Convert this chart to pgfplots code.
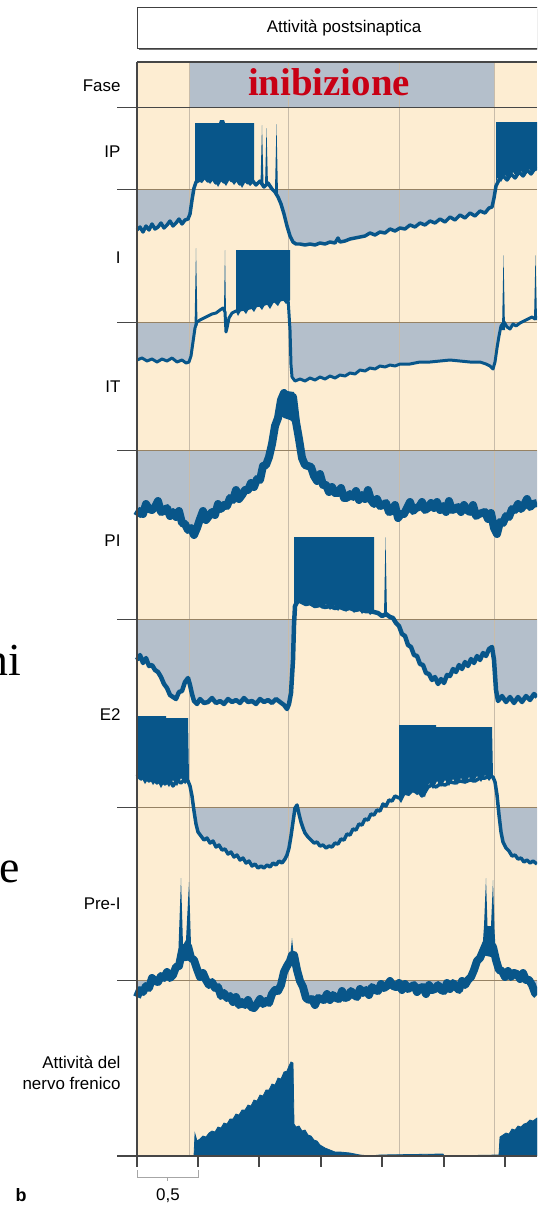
\documentclass[border=0pt]{standalone}
\usepackage{pgfplots}
\pgfplotsset{compat=1.18}
\usepackage{pgfplotstable}
\usepackage{fontspec}
\setmainfont{Liberation Sans}
\newfontfamily\serifx{Liberation Serif}
\definecolor{beige}{RGB}{253,237,210}
\definecolor{gblue}{RGB}{180,191,203}
\definecolor{dblue}{RGB}{8,86,138}
\definecolor{gridc}{RGB}{200,188,170}
\definecolor{basec}{RGB}{150,130,100}
\definecolor{axc}{RGB}{70,70,70}
\definecolor{redt}{RGB}{200,0,20}

\pgfplotstableread[row sep=\\]{x y\\
137 230\\140 227\\143 232\\146 226\\149 230\\152 224\\155 229\\158 227\\161 223\\164 228\\167 225\\170 221\\173 226\\176 223\\179 219\\182 224\\185 220\\188 219\\190 214\\192 200\\194 188\\196 182\\
200 180\\204 176\\208 181\\212 177\\216 183\\220 178\\224 182\\228 176\\232 181\\236 178\\240 184\\244 179\\248 183\\252 180\\256 185\\260 181\\264 187\\268 183\\272 189\\275 192\\278 197\\281 204\\284 214\\287 226\\290 236\\293 242\\296 244\\
300 244\\305 245\\310 244\\315 245\\320 243\\325 244\\330 242\\335 243\\338 238\\340 242\\345 241\\350 239\\355 238\\360 237\\365 236\\370 233\\375 235\\380 232\\385 233\\390 229\\395 231\\400 228\\405 229\\410 225\\415 227\\420 223\\425 225\\430 221\\435 223\\440 219\\445 222\\450 217\\455 220\\460 215\\465 218\\470 213\\475 216\\480 211\\485 213\\489 208\\492 207\\494 198\\496 186\\499 180\\503 176\\507 180\\511 174\\515 178\\519 172\\523 176\\527 170\\531 174\\535 168\\537 170\\
}\ipdata

\pgfplotstableread[row sep=\\]{x y\\
137 360\\142 358\\147 361\\152 359\\157 362\\162 359\\167 361\\172 358\\177 362\\182 360\\186 363\\189 362\\191 356\\193 342\\195 328\\197 322\\200 320\\204 318\\208 316\\212 314\\216 313\\220 310\\223 308\\225 312\\226 332\\227 328\\229 318\\232 313\\236 311\\
240 310\\245 309\\250 308\\255 306\\260 305\\265 304\\270 302\\275 301\\280 300\\285 299\\288 298\\290 330\\291 365\\292 377\\295 381\\300 379\\305 381\\310 378\\315 380\\320 377\\325 379\\330 376\\335 378\\340 375\\345 376\\350 373\\355 374\\360 370\\365 371\\370 368\\375 369\\380 366\\385 367\\390 365\\395 366\\400 364\\410 364\\420 362\\430 362\\440 361\\450 360\\460 361\\470 362\\480 362\\486 364\\490 366\\493 369\\495 362\\497 348\\499 336\\501 326\\504 322\\507 327\\510 329\\513 324\\516 326\\520 323\\524 321\\528 319\\532 317\\535 319\\537 316\\
}\idata

\pgfplotstableread[row sep=\\]{x y\\
137 516\\140 511\\143 514\\146 504\\149 509\\152 510\\155 507\\158 501\\161 512\\164 511\\167 508\\170 516\\173 512\\176 517\\179 511\\182 523\\185 524\\188 530\\191 528\\194 535\\197 528\\200 519\\203 511\\206 520\\209 516\\212 512\\215 515\\218 504\\221 509\\224 505\\227 506\\230 498\\233 500\\236 490\\239 499\\242 495\\245 490\\248 490\\251 483\\254 487\\257 479\\260 480\\263 466\\266 465\\269 457\\272 444\\275 426\\278 418\\281 400\\284 393\\287 397\\290 396\\293 397\\296 422\\299 439\\
302 458\\305 465\\308 466\\311 467\\314 476\\317 481\\320 474\\323 485\\326 485\\329 492\\332 487\\335 493\\338 493\\341 488\\344 498\\347 498\\350 494\\353 497\\356 491\\359 500\\362 495\\365 499\\368 490\\371 500\\374 504\\377 499\\380 506\\383 505\\386 503\\389 512\\392 511\\395 505\\398 518\\401 514\\404 514\\407 508\\410 502\\413 511\\416 508\\419 507\\422 502\\425 510\\428 508\\431 503\\434 508\\437 502\\440 510\\443 506\\446 512\\449 501\\452 510\\455 509\\458 507\\461 512\\464 505\\467 510\\470 512\\473 505\\476 516\\479 514\\482 513\\485 512\\488 519\\491 513\\494 528\\497 534\\500 522\\503 523\\506 516\\509 517\\512 509\\515 510\\518 504\\521 509\\524 505\\527 499\\530 507\\533 504\\537 503\\
}\itdata

\pgfplotstableread[row sep=\\]{x y\\
137 660\\140 655\\143 663\\146 658\\149 666\\152 665\\155 670\\158 672\\161 677\\164 684\\167 688\\170 695\\173 697\\176 699\\179 692\\182 691\\185 682\\188 678\\190 685\\192 694\\194 701\\197 704\\200 699\\204 703\\208 702\\212 698\\216 703\\220 701\\224 704\\228 699\\232 702\\236 700\\240 703\\244 698\\248 702\\252 701\\256 704\\260 699\\264 702\\268 700\\272 703\\276 699\\280 702\\284 705\\287 709\\289 704\\291 693\\293 660\\294 625\\295 606\\298 600\\
302 602\\306 604\\310 603\\315 606\\320 605\\325 607\\330 606\\335 608\\340 607\\345 609\\350 608\\355 610\\360 609\\365 611\\370 611\\374 612\\378 613\\382 616\\386 614\\390 617\\393 618\\396 623\\399 626\\402 634\\405 636\\408 645\\411 647\\414 655\\417 656\\420 664\\423 665\\426 673\\429 674\\432 680\\435 677\\438 684\\441 679\\444 683\\447 675\\450 676\\453 669\\456 672\\459 665\\462 669\\465 662\\468 666\\471 659\\474 663\\477 656\\480 660\\483 653\\486 656\\489 649\\492 647\\494 660\\496 690\\498 701\\502 696\\506 702\\510 697\\514 703\\518 697\\522 702\\526 696\\530 700\\534 694\\537 697\\
}\pidata

\pgfplotstableread[row sep=\\]{x y\\
137 774\\141 779\\145 773\\149 781\\153 776\\157 783\\161 777\\165 784\\169 779\\173 786\\177 780\\181 783\\185 779\\188 781\\190 786\\192 796\\194 811\\196 824\\198 832\\201 836\\204 840\\207 838\\210 843\\213 841\\216 847\\219 845\\222 850\\225 849\\228 854\\231 852\\234 857\\237 855\\240 860\\243 858\\246 863\\249 861\\252 866\\255 864\\258 868\\261 866\\264 868\\267 865\\270 867\\273 863\\276 865\\279 861\\282 863\\285 859\\287 855\\289 848\\291 836\\293 822\\295 808\\297 805\\299 814\\
301 822\\303 828\\305 833\\308 837\\311 840\\314 843\\317 842\\320 846\\323 845\\326 848\\329 846\\332 847\\335 843\\338 844\\341 839\\344 840\\347 834\\350 835\\353 829\\356 830\\359 824\\362 825\\365 819\\368 820\\371 814\\374 815\\377 810\\380 811\\383 804\\386 806\\389 800\\392 801\\395 796\\399 798\\402 795\\406 791\\410 789\\414 791\\418 790\\422 796\\425 792\\428 787\\432 785\\436 787\\440 784\\445 785\\450 782\\455 783\\460 781\\465 782\\470 780\\475 781\\480 778\\485 778\\490 776\\493 777\\495 782\\497 795\\499 815\\501 832\\503 842\\506 848\\509 851\\512 856\\515 855\\518 859\\521 858\\524 862\\527 860\\530 863\\533 861\\537 864\\
}\edata

\pgfplotstableread[row sep=\\]{x y\\
137 997\\140 990\\143 992\\146 986\\149 988\\152 978\\155 981\\158 982\\161 976\\164 978\\167 972\\170 978\\173 975\\176 967\\179 966\\182 951\\185 948\\188 946\\191 958\\194 960\\197 969\\200 977\\203 973\\206 980\\209 985\\212 982\\215 988\\218 987\\221 996\\224 993\\227 998\\230 996\\233 1002\\236 997\\239 1005\\242 1002\\245 1005\\248 1000\\251 1007\\254 1008\\257 1004\\260 999\\263 1004\\266 1001\\269 1003\\272 994\\275 990\\278 991\\281 985\\284 972\\287 966\\290 961\\292 955\\294 955\\297 970\\
300 981\\303 987\\306 998\\309 1000\\312 999\\315 1005\\318 998\\321 999\\324 1000\\327 994\\330 1000\\333 995\\336 998\\339 999\\342 991\\345 998\\348 997\\351 991\\354 995\\357 997\\360 989\\363 993\\366 990\\369 995\\372 987\\375 990\\378 991\\381 984\\384 988\\387 986\\390 981\\393 986\\396 987\\399 983\\402 990\\405 984\\408 989\\411 987\\414 985\\417 992\\420 988\\423 987\\426 994\\429 985\\432 990\\435 989\\438 985\\441 990\\444 991\\447 983\\450 989\\453 983\\456 987\\459 990\\462 981\\465 985\\468 980\\471 977\\474 970\\477 961\\480 958\\483 951\\486 944\\488 942\\490 943\\493 947\\496 960\\499 970\\502 971\\505 977\\508 971\\511 977\\514 973\\517 974\\520 979\\523 973\\526 980\\529 980\\532 985\\535 993\\537 995\\
}\predata

\pgfplotstableread[row sep=\\]{x y\\
137 1156\\194 1156\\195 1134\\197 1141\\200 1139\\203 1136\\206 1137\\209 1133\\212 1131\\215 1132\\218 1127\\221 1128\\224 1123\\227 1124\\230 1119\\233 1119\\236 1114\\239 1115\\242 1110\\245 1110\\248 1105\\251 1106\\254 1100\\257 1101\\260 1095\\263 1096\\266 1090\\269 1090\\272 1084\\275 1085\\278 1078\\281 1079\\284 1072\\287 1071\\289 1066\\291 1062\\293 1063\\294 1124\\296 1127\\299 1126\\302 1131\\305 1130\\308 1135\\311 1136\\314 1140\\317 1141\\320 1145\\325 1148\\330 1150\\335 1152\\340 1152\\350 1153\\360 1155\\370 1156\\380 1155\\443 1154\\444 1156\\499 1155\\500 1137\\503 1135\\506 1133\\509 1134\\512 1129\\515 1130\\518 1126\\521 1127\\524 1124\\527 1123\\530 1120\\533 1121\\537 1118\\537 1156\\
}\nervedata

\newcommand\greyfill[2]{%
  \addplot[fill=gblue, draw=none] table[x=x, y expr={max(\thisrow{y},#2)}] {#1} -- (axis cs:537,#2) -- (axis cs:137,#2) -- cycle;
}
\newcommand\lab{\fontsize{17}{20}\selectfont}

\begin{document}
\begin{tikzpicture}
\begin{axis}[width=537bp, height=1205bp, scale only axis,
  xmin=0, xmax=537, ymin=0, ymax=1205, y dir=reverse, hide axis]

% background
\addplot[fill=beige, draw=none] coordinates {(137,62) (537,62) (537,1156) (137,1156)};
\addplot[fill=gblue, draw=none] coordinates {(189,62) (494,62) (494,107) (189,107)};

% grey fills below baselines
\greyfill{\ipdata}{189}
\greyfill{\idata}{322}
\greyfill{\itdata}{450}
\greyfill{\pidata}{619}
\greyfill{\edata}{807}
\greyfill{\predata}{980}

% vertical grid lines
\addplot[gridc, line width=1] coordinates {(189,62) (189,1156)};
\addplot[gridc, line width=1] coordinates {(288,62) (288,1156)};
\addplot[gridc, line width=1] coordinates {(399,62) (399,1156)};
\addplot[gridc, line width=1] coordinates {(494,62) (494,1156)};

% baselines
\addplot[basec, line width=1] coordinates {(137,189) (537,189)};
\addplot[basec, line width=1] coordinates {(137,322) (537,322)};
\addplot[basec, line width=1] coordinates {(137,450) (537,450)};
\addplot[basec, line width=1] coordinates {(137,619) (537,619)};
\addplot[basec, line width=1] coordinates {(137,807) (537,807)};
\addplot[basec, line width=1] coordinates {(137,980) (537,980)};
\addplot[axc, line width=1] coordinates {(117,189) (137,189)};
\addplot[axc, line width=1] coordinates {(117,322) (137,322)};
\addplot[axc, line width=1] coordinates {(117,450) (137,450)};
\addplot[axc, line width=1] coordinates {(117,619) (137,619)};
\addplot[axc, line width=1] coordinates {(117,807) (137,807)};
\addplot[axc, line width=1] coordinates {(117,980) (137,980)};
\addplot[axc, line width=1] coordinates {(117,107) (537,107)};

% IP
\addplot[dblue, line width=3.5, line join=round] table[x=x,y=y] {\ipdata};
\addplot[fill=dblue, draw=none] coordinates {(195,123) (219,123) (220,120) (224,120) (225,123) (254,123) (254,182) (250,186) (246,181) (242,188) (238,180) (234,185) (230,179) (226,186) (222,180) (218,187) (214,179) (210,184) (206,178) (202,183) (198,181) (195,185)};
\addplot[fill=dblue, draw=none] coordinates {(260.5,185) (262,125) (263.5,185)};
\addplot[fill=dblue, draw=none] coordinates {(265,186) (266.5,128) (268,186)};
\addplot[fill=dblue, draw=none] coordinates {(275,190) (276.5,124) (278,195)};
\addplot[fill=dblue, draw=none] coordinates {(496,122) (537,122) (537,168) (533,174) (529,169) (525,176) (521,171) (517,178) (513,172) (509,180) (505,175) (501,182) (497,178) (496,186)};

% I
\addplot[dblue, line width=3, line join=round] table[x=x,y=y] {\idata};
\addplot[fill=dblue, draw=none] coordinates {(194.5,330) (196,248) (197.5,325)};
\addplot[fill=dblue, draw=none] coordinates {(224,310) (225,250) (226,315)};
\addplot[fill=dblue, draw=none] coordinates {(236,250) (290,250) (290,300) (286,304) (282,299) (278,306) (274,302) (270,309) (266,303) (262,310) (258,305) (254,312) (250,307) (246,314) (242,309) (238,316) (236,312)};
\addplot[fill=dblue, draw=none] coordinates {(502,330) (503.5,255) (505,330)};
\addplot[fill=dblue, draw=none] coordinates {(534,320) (535.5,255) (537,320)};

% IT
\addplot[dblue, line width=8, line join=round] table[x=x,y=y] {\itdata};
\addplot[fill=dblue, draw=none] coordinates {(279,408) (281,396) (282,391) (285,391) (286,396) (287,391) (294,392) (296,425) (290,420) (284,418) (279,415)};

% PI
\addplot[dblue, line width=4.5, line join=round] table[x=x,y=y] {\pidata};
\addplot[fill=dblue, draw=none] coordinates {(294,537) (374,537) (374,612) (370,615) (366,609) (362,614) (358,608) (354,613) (350,607) (346,612) (342,606) (338,611) (334,605) (330,610) (326,604) (322,609) (318,603) (314,608) (310,602) (306,606) (302,601) (298,604) (295,600) (294,620)};
\addplot[fill=dblue, draw=none] coordinates {(384,616) (385.5,537) (387,616)};

% E2
\addplot[dblue, line width=3.5, line join=round] table[x=x,y=y] {\edata};
\addplot[fill=dblue, draw=none] coordinates {(137,716) (166,716) (166,718) (188,718) (189,780) (185,784) (181,778) (177,786) (173,780) (169,787) (165,781) (161,788) (157,780) (153,785) (149,778) (145,784) (141,777) (137,780)};
\addplot[fill=dblue, draw=none] coordinates {(399,725) (436,725) (436,727) (492,727) (493,776) (489,781) (485,775) (481,782) (477,776) (473,783) (469,777) (465,784) (461,778) (457,785) (453,779) (449,786) (445,780) (441,787) (437,781) (433,789) (429,783) (425,797) (421,793) (417,795) (413,792) (409,796) (405,795) (401,803) (399,800)};

% Pre-I
\addplot[dblue, line width=8, line join=round] table[x=x,y=y] {\predata};
\addplot[fill=dblue, draw=none] coordinates {(178,962) (181,878) (183,945) (186,940) (189,882) (191,945) (193,960)};
\addplot[fill=dblue, draw=none] coordinates {(290,958) (292,938) (294,958)};
\addplot[fill=dblue, draw=none] coordinates {(482,955) (484,926) (486,878) (487.5,926) (491,926) (493,880) (494.5,930) (496,958)};

% phrenic nerve
\addplot[fill=dblue, draw=dblue, line width=0.8] table[x=x,y=y] {\nervedata};

% frame
\addplot[axc, line width=1.2] coordinates {(137,62) (537,62)};
\addplot[axc, line width=1.2] coordinates {(137,62) (137,1156)};
\addplot[axc, line width=1.2] coordinates {(117,1156) (537,1156)};
\addplot[axc, line width=1.2] coordinates {(137,1156) (137,1167)};
\addplot[axc, line width=1.2] coordinates {(198,1156) (198,1167)};
\addplot[axc, line width=1.2] coordinates {(259,1156) (259,1167)};
\addplot[axc, line width=1.2] coordinates {(321,1156) (321,1167)};
\addplot[axc, line width=1.2] coordinates {(382,1156) (382,1167)};
\addplot[axc, line width=1.2] coordinates {(444,1156) (444,1167)};
\addplot[axc, line width=1.2] coordinates {(505,1156) (505,1167)};
\addplot[black!35, line width=0.8] coordinates {(137,1170) (137,1177) (198,1177) (198,1170)};
\addplot[black!35, line width=0.8] coordinates {(167.5,1177) (167.5,1181)};

% top box
\addplot[fill=black!55, draw=none] coordinates {(139,9) (545,9) (545,50) (139,50)};
\addplot[fill=white, draw=black!75, line width=1] coordinates {(137,7) (545,7) (545,48) (137,48) (137,7)};

% labels
\node at (axis cs:344,28) {\lab Attivit\`a postsinaptica};
\node[anchor=east] at (axis cs:124,86) {\lab Fase};
\node[anchor=east] at (axis cs:124,152) {\lab IP};
\node[anchor=east] at (axis cs:124,258) {\lab I};
\node[anchor=east] at (axis cs:124,387) {\lab IT};
\node[anchor=east] at (axis cs:124,541) {\lab PI};
\node[anchor=east] at (axis cs:124,715) {\lab E2};
\node[anchor=east] at (axis cs:124,904) {\lab Pre-I};
\node[anchor=east] at (axis cs:124,1062) {\lab Attivit\`a del};
\node[anchor=east] at (axis cs:124,1083) {\lab nervo frenico};
\node at (axis cs:168,1196) {\lab 0,5};
\node at (axis cs:21,1195) {\fontsize{18}{20}\selectfont\bfseries b};
\node[anchor=base, text=redt, inner sep=0pt] at (axis cs:329,95) {\serifx\bfseries\fontsize{39}{40}\selectfont inibizione};
\node[anchor=base east, inner sep=0pt] at (axis cs:21,675) {\serifx\fontsize{46}{48}\selectfont ni};
\node[anchor=base east, inner sep=0pt] at (axis cs:20,882) {\serifx\fontsize{46}{48}\selectfont e};
\end{axis}
\pgfresetboundingbox
\path (current axis.south west) rectangle (current axis.north east);
\end{tikzpicture}
\end{document}
